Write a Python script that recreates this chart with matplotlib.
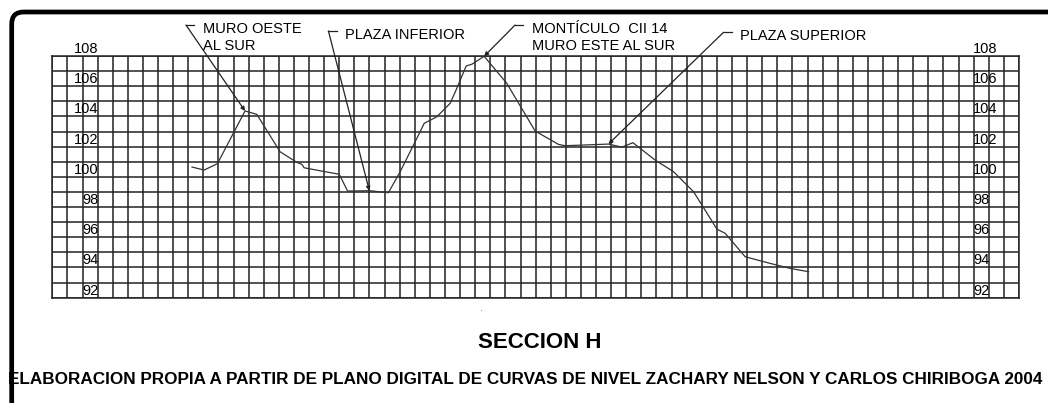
import numpy as np
import matplotlib
matplotlib.use("Agg")
import matplotlib.pyplot as plt
from matplotlib.patches import FancyBboxPatch

plt.rcParams["font.family"] = ["Liberation Sans", "DejaVu Sans"]

# perfil del terreno (distancia en cuadros, cota en m)
dist = [9.25, 10.05, 10.93, 12.76, 13.54, 15.08, 16.19, 16.52, 16.67, 19.0,
        19.55, 21.04, 22.25, 23.03, 24.02, 24.62, 25.46, 26.34, 26.78, 27.40,
        27.77, 28.59, 30.09, 31.97, 33.51, 33.95, 36.82, 37.71, 38.44, 39.91,
        41.13, 42.45, 43.01, 44.0, 44.55, 45.87, 47.53, 48.85, 50.07]
elev = [100.65, 100.45, 100.87, 104.36, 104.14, 101.66, 100.96, 100.83, 100.60, 100.17,
        99.06, 99.08, 98.95, 100.34, 102.32, 103.54, 103.98, 104.87, 105.86, 107.34,
        107.45, 107.98, 106.19, 103.03, 102.15, 102.06, 102.17, 101.97, 102.26, 101.11,
        100.34, 99.02, 98.13, 96.54, 96.26, 94.71, 94.27, 93.94, 93.72]

y_labels = [108, 106, 104, 102, 100, 98, 96, 94, 92]

# rotulos
notes = ["MURO OESTE\nAL SUR", "PLAZA INFERIOR", "MONTÍCULO  CII 14\nMURO ESTE AL SUR", "PLAZA SUPERIOR"]
note_target = [12.76, 20.99, 28.59, 36.82]
note_corner = [(8.85, 110.05), (18.28, 109.66), (30.64, 110.05), (44.44, 109.57)]

title = "SECCION H"
source = "ELABORACION PROPIA A PARTIR DE PLANO DIGITAL DE CURVAS DE NIVEL ZACHARY NELSON Y CARLOS CHIRIBOGA 2004"

W, H = 1048, 403
fig = plt.figure(figsize=(W / 100, H / 100), dpi=100)

# marco redondeado
frame = FancyBboxPatch((0.117, -0.2), 10.6, 3.91 + 0.2,
                       boxstyle="round,pad=0,rounding_size=0.12",
                       transform=fig.dpi_scale_trans, fill=False,
                       lw=3.4, ec="black")
fig.add_artist(frame)

ax = fig.add_axes([52.3 / W, (H - 297.7) / H, (1019 - 52.3) / W, (297.7 - 56) / H])
ax.set_xlim(0, 64)
ax.set_ylim(92, 108)
ax.set_xticks(np.arange(0, 65, 1))
ax.set_yticks(np.arange(92, 109, 1))
ax.tick_params(length=0, labelbottom=False, labelleft=False)
ax.grid(True, color="#222222", lw=1.1)
for s in ax.spines.values():
    s.set_color("#222222")
    s.set_linewidth(1.1)

ax.plot(dist, elev, color="#333333", lw=0.9, zorder=3)

for v in y_labels:
    ax.text(3.05, v, str(v), ha="right", va="bottom", fontsize=10.5, zorder=4, clip_on=False)
    ax.text(60.95, v, str(v), ha="left", va="bottom", fontsize=10.5, zorder=4, clip_on=False)

for txt, tx, (cx, cy) in zip(notes, note_target, note_corner):
    ty = np.interp(tx, dist, elev)
    ax.plot([cx, cx + 0.55], [cy, cy], color="#222222", lw=0.9, clip_on=False)
    ax.annotate("", xy=(tx, ty), xytext=(cx, cy),
                arrowprops=dict(arrowstyle="-|>", color="#222222", lw=0.9,
                                mutation_scale=6, shrinkA=0, shrinkB=0),
                annotation_clip=False)
    ax.text(cx + 1.1, cy + 0.2, txt, ha="left", va="top", fontsize=10.5,
            linespacing=1.25, clip_on=False)

fig.text(540 / W, 1 - 342 / H, title, ha="center", va="center",
         fontsize=16, fontweight="bold")
fig.text(525.5 / W, 1 - 380 / H, source, ha="center", va="center",
         fontsize=12.3, fontweight="bold")
fig.text(481 / W, 1 - 312 / H, "·", ha="center", va="center", fontsize=6, color="#555555")

fig.savefig("out.png", dpi=100)
